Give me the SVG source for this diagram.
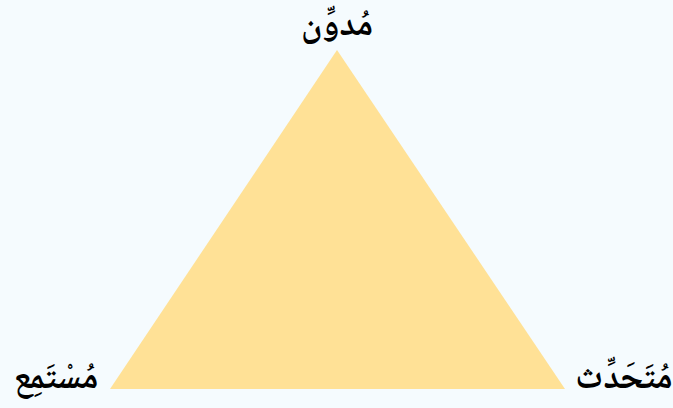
<svg xmlns="http://www.w3.org/2000/svg" width="673" height="408" viewBox="0 0 673 408">
<style>
.lbl{font-family:"Noto Naskh Arabic","Noto Serif","DejaVu Serif",serif;font-weight:bold;font-size:35px;fill:#000;}
</style>
<rect width="673" height="408" fill="#f5fbfe"/>
<g id="triangle"><polygon points="337,50 110,389 565,389" fill="#ffe196"/></g>
<g id="connectors"></g>
<g id="node-top"><text class="lbl" x="337" y="35" text-anchor="middle" direction="rtl">مُدوِّن</text></g>
<g id="node-left"><text class="lbl" x="56" y="388" text-anchor="middle" direction="rtl">مُسْتَمِع</text></g>
<g id="node-right"><text class="lbl" x="624" y="388" text-anchor="middle" direction="rtl">مُتَحَدِّث</text></g>
</svg>
